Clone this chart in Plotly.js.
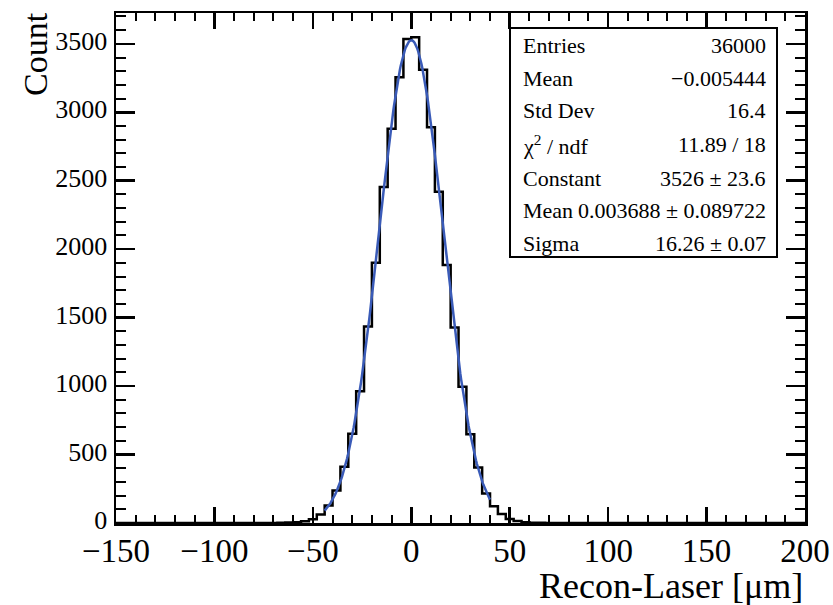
<!DOCTYPE html>
<html>
<head>
<meta charset="utf-8">
<script src="https://cdn.plot.ly/plotly-3.0.1.min.js"></script>
<style>html,body{margin:0;padding:0;background:#fff;}#chart{width:833px;height:605px;}</style>
</head>
<body>
<div id="chart"></div>
<script>
// Histogram binning (bin width 4 µm), first listed bin low edge
const binLowEdge = -68;
const binWidth = 4;
const counts = [1, 3, 6, 12, 28, 62, 128, 238, 410, 651, 962, 1435, 1900, 2455, 2880, 3255, 3535,
                3548, 3310, 2890, 2420, 1885, 1428, 996, 648, 405, 215, 122, 66, 30, 14, 6, 2, 1];
// Gaussian fit parameters from the stats box
const fitConstant = 3526;
const fitMean = 0.003688;
const fitSigma = 16.26;
const fitRange = [-44, 40];
// Stats box text
const statLabels = ["Entries", "Mean", "Std Dev", "\u03c7<sup>2</sup> / ndf", "Constant", "Mean", "Sigma"];
const statValues = ["36000", "\u22120.005444", "16.4", "11.89 / 18", "3526 \u00b1 23.6", "0.003688 \u00b1 0.089722", "16.26 \u00b1 0.07"];
const xTicks = [-150, -100, -50, 0, 50, 100, 150, 200];
const yTicks = [0, 500, 1000, 1500, 2000, 2500, 3000, 3500];
const xRange = [-150, 200];
const yRange = [0, 3725];

// Step outline of the histogram
const hx = [binLowEdge], hy = [0];
counts.forEach((c, i) => { hx.push(binLowEdge + i * binWidth); hy.push(c); });
const lastEdge = binLowEdge + counts.length * binWidth;
hx.push(lastEdge); hy.push(counts[counts.length - 1]);
hx.push(lastEdge); hy.push(0);

// Fit function curve
const fx = [], fy = [];
const nPts = 200;
for (let i = 0; i <= nPts; i++) {
  const x = fitRange[0] + (fitRange[1] - fitRange[0]) * i / nPts;
  fx.push(x);
  fy.push(fitConstant * Math.exp(-0.5 * Math.pow((x - fitMean) / fitSigma, 2)));
}

const font = "Liberation Serif, Times New Roman, serif";
const traces = [
  {x: [xRange[0]].concat(hx).concat([xRange[1]]), y: [0].concat(hy).concat([0]), type: 'scatter', mode: 'lines',
   line: {shape: 'hv', color: '#000', width: 2.5}, hoverinfo: 'skip'},
  {x: fx, y: fy, type: 'scatter', mode: 'lines', line: {color: '#3a5bb8', width: 2.5}, hoverinfo: 'skip'},
  {x: [xRange[0]], y: [0], xaxis: 'x2', yaxis: 'y2', type: 'scatter', mode: 'markers',
   marker: {opacity: 0}, hoverinfo: 'skip'}
];

const L = 116, R = 805, T = 13, B = 523;
const px2x = p => (p - L) / (R - L);
const py2y = p => (B - p) / (B - T);
const rowY = [45, 78, 111, 145, 179, 211, 244];
const annotations = [];
statLabels.forEach((s, i) => {
  annotations.push({xref: 'paper', yref: 'paper', x: px2x(521), y: py2y(rowY[i]), xanchor: 'left', yanchor: 'middle',
    text: s, showarrow: false, font: {family: font, size: 22, color: '#000'}});
  annotations.push({xref: 'paper', yref: 'paper', x: px2x(768), y: py2y(rowY[i]), xanchor: 'right', yanchor: 'middle',
    text: statValues[i], showarrow: false, font: {family: font, size: 22, color: '#000'}});
});
annotations.push({xref: 'paper', yref: 'paper', x: 1, y: py2y(586), xanchor: 'right', yanchor: 'middle',
  text: 'Recon-Laser [\u03bcm]', showarrow: false, font: {family: font, size: 36, color: '#000'}});
annotations.push({xref: 'paper', yref: 'paper', x: px2x(36), y: 1.006, xanchor: 'center', yanchor: 'top', textangle: -90,
  text: 'Count', showarrow: false, font: {family: font, size: 34, color: '#000'}});

const tickStyleX = {ticks: 'inside', ticklen: 16, tickwidth: 2.5, tickcolor: '#000', showgrid: false, zeroline: false,
  minor: {dtick: 10, tick0: 0, ticks: 'inside', ticklen: 8, tickwidth: 2, tickcolor: '#000', showgrid: false}};
const tickStyleY = {ticks: 'inside', ticklen: 19, tickwidth: 2.5, tickcolor: '#000', showgrid: false, zeroline: false,
  minor: {dtick: 100, tick0: 0, ticks: 'inside', ticklen: 10, tickwidth: 2, tickcolor: '#000', showgrid: false}};

const layout = {
  width: 833, height: 605,
  margin: {l: L, r: 833 - R, t: T, b: 605 - B},
  paper_bgcolor: '#fff', plot_bgcolor: '#fff',
  showlegend: false,
  xaxis: Object.assign({range: xRange, tickvals: xTicks, ticktext: xTicks.map(v => (v < 0 ? '\u2212' : '') + Math.abs(v)),
    showline: true, linecolor: '#000', linewidth: 2.5, mirror: true, ticklabelstandoff: -3,
    tickfont: {family: font, size: 33, color: '#000'}}, tickStyleX),
  yaxis: Object.assign({range: yRange, tickvals: yTicks,
    showline: true, linecolor: '#000', linewidth: 2.5, mirror: true, ticklabelstandoff: 1, ticklabelshift: -3,
    tickfont: {family: font, size: 26, color: '#000'}}, tickStyleY),
  xaxis2: Object.assign({range: xRange, tickvals: xTicks, overlaying: 'x', side: 'top', showticklabels: false,
    showline: false}, tickStyleX),
  yaxis2: Object.assign({range: yRange, tickvals: yTicks, overlaying: 'y', side: 'right', showticklabels: false,
    showline: false}, tickStyleY),
  shapes: [{type: 'rect', xref: 'paper', yref: 'paper', x0: px2x(510), x1: px2x(777), y0: py2y(257), y1: py2y(28),
    line: {color: '#000', width: 2}, fillcolor: '#fff', layer: 'above'}],
  annotations: annotations
};
Plotly.newPlot('chart', traces, layout, {staticPlot: true, displayModeBar: false});
</script>
</body>
</html>
